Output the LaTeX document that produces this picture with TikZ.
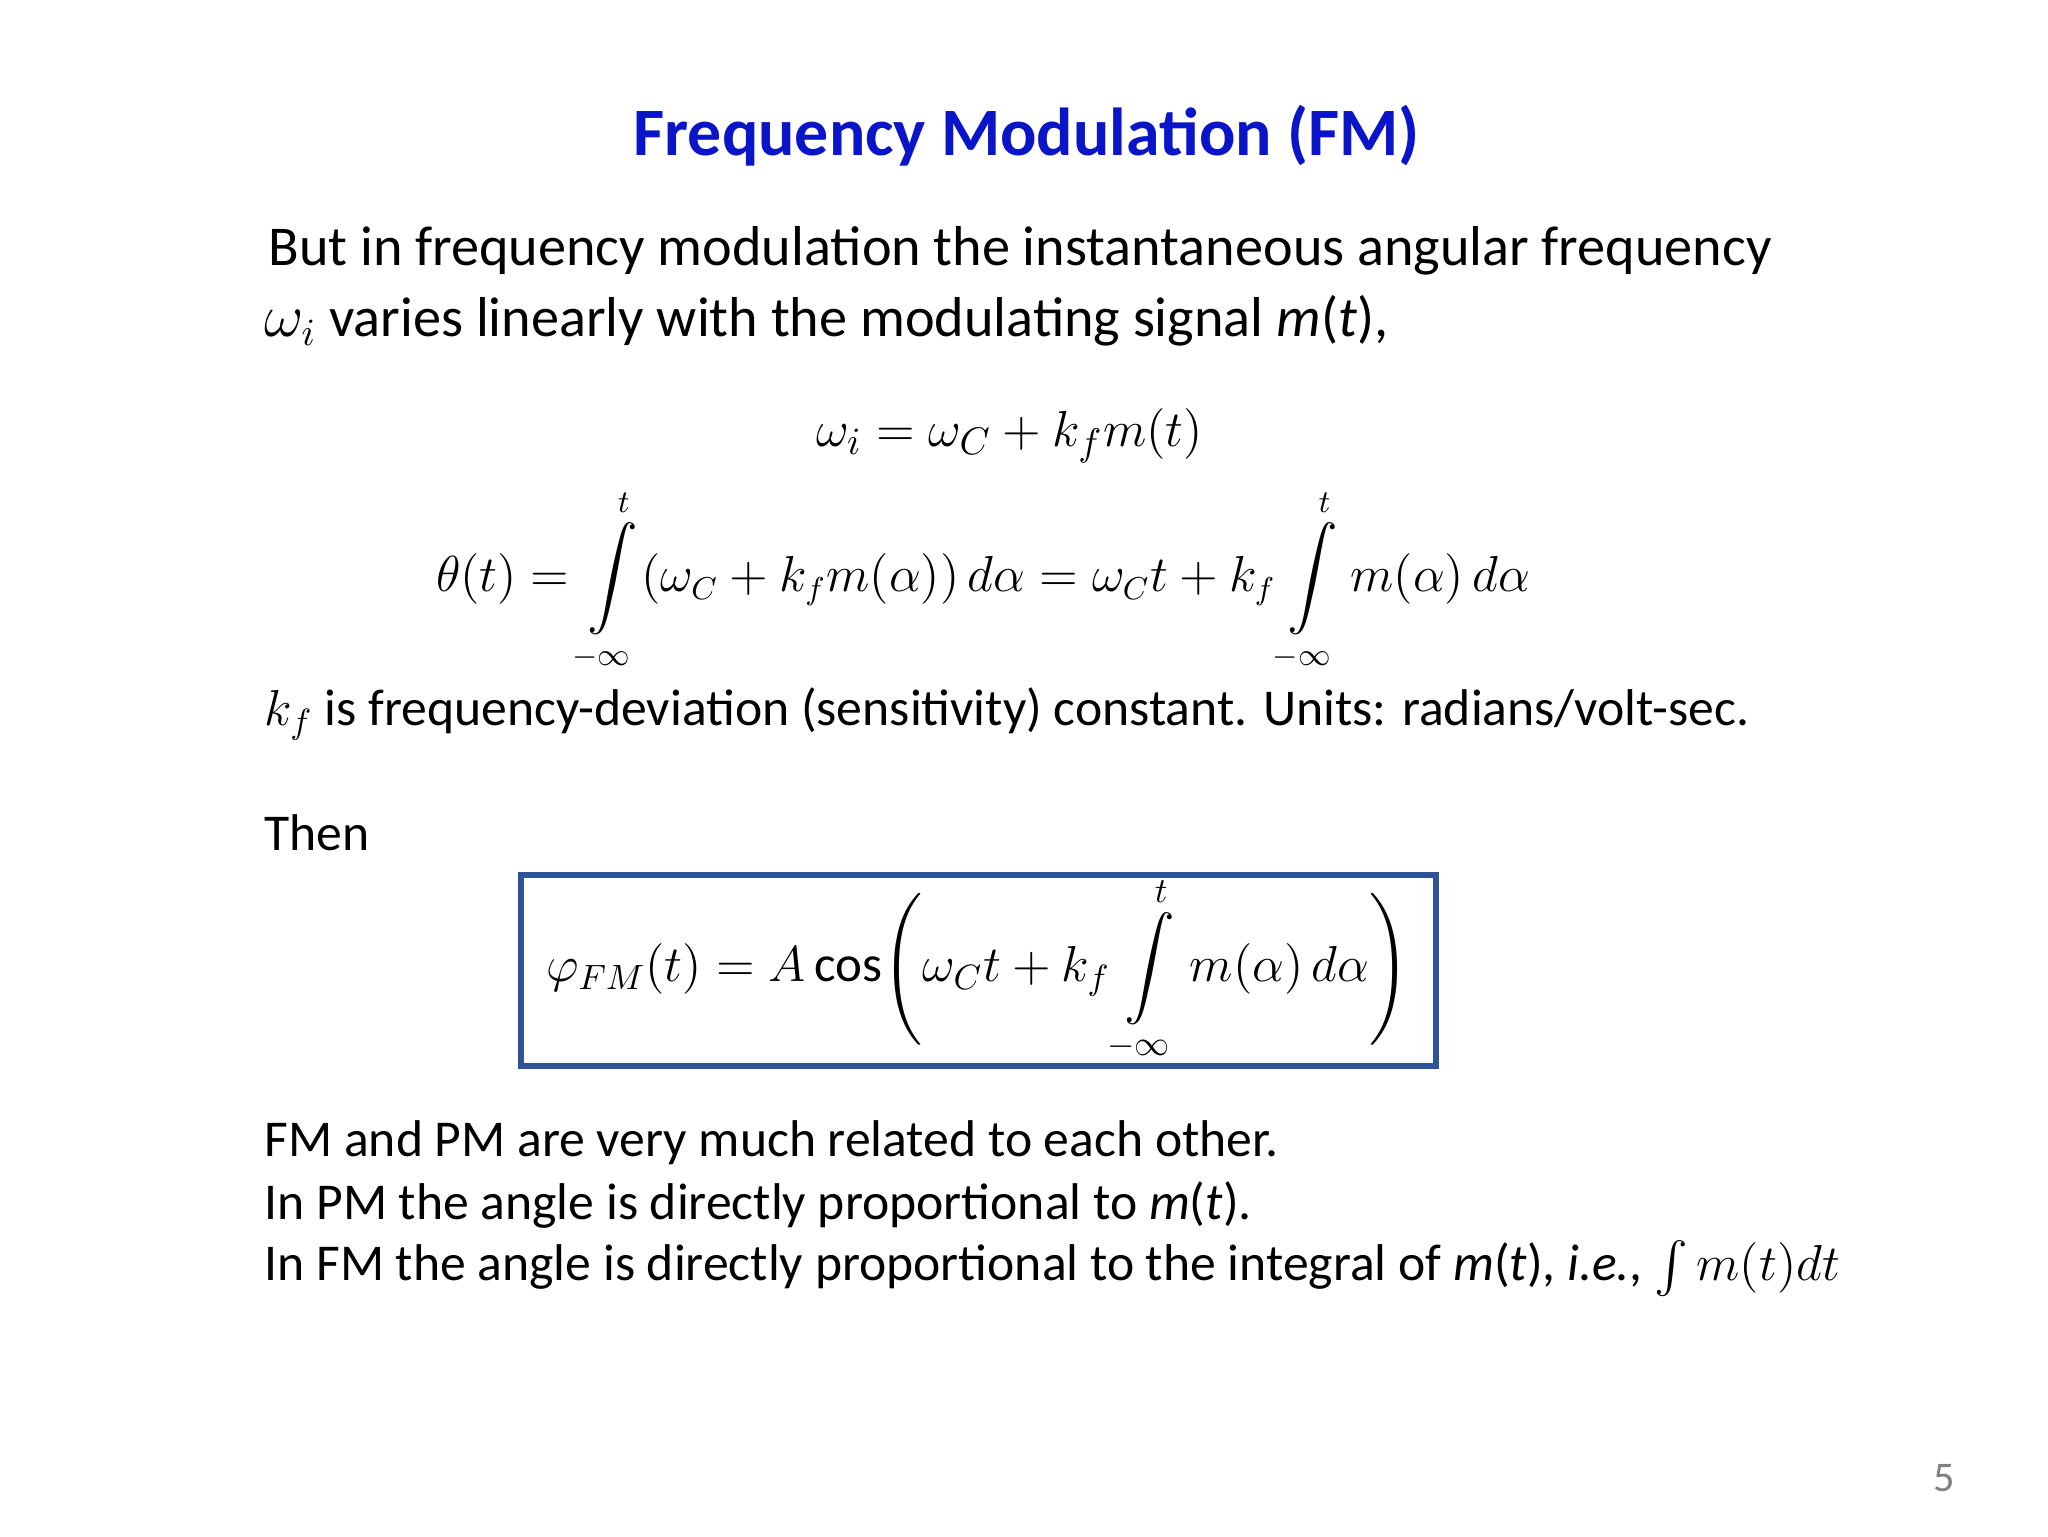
\documentclass[tikz,border=0pt]{standalone}
\usepackage{amsmath}
\usepackage{fontspec}
\setmainfont{Carlito}
\definecolor{titleblue}{RGB}{10,20,200}
\definecolor{boxblue}{RGB}{47,84,150}
\begin{document}
\begin{tikzpicture}[x=0.013196cm,y=-0.013196cm,
  body/.style={anchor=west,inner sep=0pt,font=\fontsize{16}{19}\selectfont},
  bodys/.style={anchor=west,inner sep=0pt,font=\fontsize{14.7}{18}\selectfont},
  eq/.style={inner sep=0pt,font=\fontsize{13.5}{16}\selectfont}]
\useasboundingbox[fill=white] (0,0) rectangle (1552,1164);
\node[inner sep=0pt,font=\fontsize{19.3}{23}\selectfont\bfseries,text=titleblue] (title) at (778,103) {Frequency Modulation (FM)};
\node[body] (l1) at (203,190) {But in frequency modulation the instantaneous angular frequency};
\node[body] (l2) at (200,243) {$\omega_i$ varies linearly with the modulating signal \textit{m}(\textit{t}),};
\node[eq,font=\fontsize{15}{18}\selectfont] (e1) at (765,330) {$\omega_i = \omega_C + k_f m(t)$};
\node[eq] (e2) at (745,440) {$\displaystyle \theta(t) = \int\limits_{-\infty}^{t} (\omega_C + k_f m(\alpha))\, d\alpha = \omega_C t + k_f \int\limits_{-\infty}^{t} m(\alpha)\, d\alpha$};
\node[bodys] (l3) at (200,541) {$k_f$ is frequency-deviation (sensitivity) constant. Units: radians/volt-sec.};
\node[bodys] (l4) at (200,631) {Then};
\draw[boxblue,line width=1.6pt] (395,663) rectangle (1088,808);
\node[eq,font=\fontsize{14.5}{17}\selectfont] (e3) at (741,735) {$\displaystyle \varphi_{FM}(t) = A\,\mathrm{cos}\Bigg(\omega_C t + k_f \int\limits_{-\infty}^{t} m(\alpha)\, d\alpha\Bigg)$};
\node[bodys] (l5) at (200,866) {FM and PM are very much related to each other.};
\node[bodys] (l6) at (200,913) {In PM the angle is directly proportional to \textit{m}(\textit{t}).};
\node[bodys] (l7) at (200,961) {In FM the angle is directly proportional to the integral of \textit{m}(\textit{t}), \textit{i.e.}, $\int m(t)dt$};
\node[inner sep=0pt,text=gray,font=\fontsize{12}{14}\selectfont] (pg) at (1473,1120) {5};
\end{tikzpicture}
\end{document}
